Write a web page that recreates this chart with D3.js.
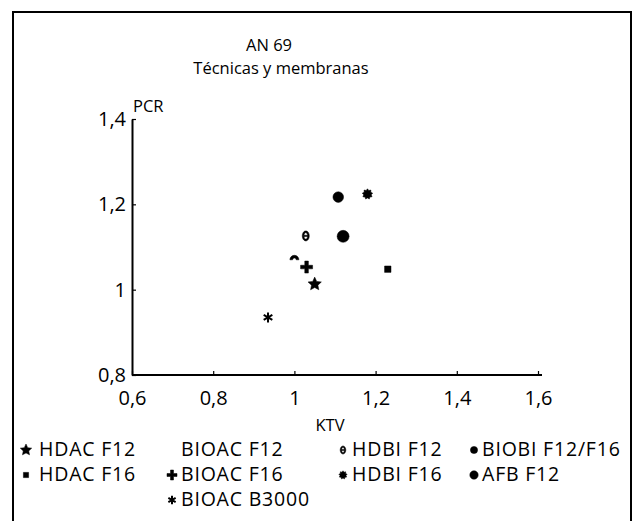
<!DOCTYPE html>
<html>
<head>
<meta charset="utf-8">
<script src="https://cdn.jsdelivr.net/npm/d3@7"></script>
<style>
  body { margin: 0; background: #fff; }
  svg { display: block; font-family: "Open Sans", sans-serif; }
</style>
</head>
<body>
<svg id="chart"></svg>
<script>
// data
const categories = ["HDAC F12", "HDAC F16", "BIOAC F12", "BIOAC F16", "BIOAC B3000",
                    "HDBI F12", "HDBI F16", "BIOBI F12/F16", "AFB F12"];
const ktv = [1.05, 1.23, 1.00, 1.03, 0.935, 1.028, 1.18, 1.108, 1.12];
const pcr = [1.013, 1.048, 1.07, 1.053, 0.935, 1.126, 1.224, 1.217, 1.125];
const xTicks = [0.6, 0.8, 1, 1.2, 1.4, 1.6];
const yTicks = [0.8, 1, 1.2, 1.4];
const legendColumns = [
  ["HDAC F12", "HDAC F16"],
  ["BIOAC F12", "BIOAC F16", "BIOAC B3000"],
  ["HDBI F12", "HDBI F16"],
  ["BIOBI F12/F16", "AFB F12"]
];

const width = 637, height = 521;
const svg = d3.select('#chart')
    .attr('width', width)
    .attr('height', height);

// outer frame (bottom edge runs off the page)
svg.append('rect')
    .attr('x', 13).attr('y', 12)
    .attr('width', 618).attr('height', 530)
    .attr('fill', 'none')
    .attr('stroke', '#000')
    .attr('stroke-width', 2);

// titles
svg.append('text').attr('x', 269).attr('y', 51)
    .attr('text-anchor', 'middle').attr('font-size', 16.5).text('AN 69');
svg.append('text').attr('x', 281).attr('y', 74)
    .attr('text-anchor', 'middle').attr('font-size', 16.5).text('Técnicas y membranas');

// scales
const x = d3.scaleLinear().domain([0.6, 1.6]).range([132, 538]);
const y = d3.scaleLinear().domain([0.8, 1.4]).range([375, 119]);

const comma = d3.formatLocale({decimal: ",", thousands: ".", grouping: [3], currency: ["", ""]}).format("~g");

const xAxis = svg.append('g')
    .attr('transform', `translate(0,${y(0.8)})`)
    .call(d3.axisBottom(x).tickValues(xTicks).tickFormat(comma).tickSizeInner(-4).tickSizeOuter(0).tickPadding(20));
xAxis.select('.domain').attr('d', `M${x(0.6)},0H${x(1.6) + 4}`);

const yAxis = svg.append('g')
    .attr('transform', `translate(${x(0.6)},0)`)
    .call(d3.axisLeft(y).tickValues(yTicks).tickFormat(comma).tickSizeInner(-4).tickSizeOuter(0).tickPadding(6));

svg.selectAll('.domain').attr('stroke-width', 2);
svg.selectAll('.tick line').attr('stroke-width', 1.2);
svg.selectAll('.tick text').attr('font-size', 20).attr('font-family', '"Open Sans", sans-serif').attr('fill', '#000');
xAxis.selectAll('.tick text').attr('dy', '0.5em');

svg.append('text').attr('x', 133).attr('y', 112).attr('font-size', 16.5).text('PCR');
svg.append('text').attr('x', 330).attr('y', 431).attr('text-anchor', 'middle').attr('font-size', 16.5).text('KTV');

// marker shapes, size = radius
function ellipse(ctx, rx, ry) {
  for (let i = 0; i <= 24; i++) {
    const a = i / 24 * 2 * Math.PI;
    if (i === 0) ctx.moveTo(rx * Math.cos(a), ry * Math.sin(a));
    else ctx.lineTo(rx * Math.cos(a), ry * Math.sin(a));
  }
  ctx.closePath();
}
function starPoly(ctx, n, r, ri) {
  for (let i = 0; i < 2 * n; i++) {
    const a = -Math.PI / 2 + i * Math.PI / n;
    const rr = i % 2 ? ri : r;
    if (i === 0) ctx.moveTo(rr * Math.cos(a), rr * Math.sin(a));
    else ctx.lineTo(rr * Math.cos(a), rr * Math.sin(a));
  }
  ctx.closePath();
}
const shapes = {
  "HDAC F12": {draw: (c, r) => starPoly(c, 5, r, r * 0.48)},
  "HDAC F16": {draw: (c, r) => { c.rect(-r, -r, 2 * r, 2 * r); }},
  "BIOAC F12": {draw: (c, r) => { c.moveTo(-r, 0); c.arc(0, 0, r, Math.PI, 2 * Math.PI); c.lineTo(r * 0.4, 0); c.arc(0, 0, r * 0.4, 0, Math.PI, true); c.closePath(); }},
  "BIOAC F16": {draw: (c, r) => { const t = r * 0.3; c.moveTo(-t, -r); c.lineTo(t, -r); c.lineTo(t, -t); c.lineTo(r, -t); c.lineTo(r, t); c.lineTo(t, t); c.lineTo(t, r); c.lineTo(-t, r); c.lineTo(-t, t); c.lineTo(-r, t); c.lineTo(-r, -t); c.lineTo(-t, -t); c.closePath(); }},
  "BIOAC B3000": {stroke: true, draw: (c, r) => { for (let i = 0; i < 3; i++) { const a = Math.PI / 2 + i * Math.PI / 3; c.moveTo(r * Math.cos(a), r * Math.sin(a)); c.lineTo(-r * Math.cos(a), -r * Math.sin(a)); } }},
  "HDBI F12": {draw: (c, r) => { ellipse(c, r * 0.7, r); ellipse(c, r * 0.36, r * 0.64); c.rect(-r * 0.4, -r * 0.13, r * 0.8, r * 0.26); }},
  "HDBI F16": {draw: (c, r) => starPoly(c, 9, r, r * 0.72)},
  "BIOBI F12/F16": {draw: (c, r) => { c.moveTo(r, 0); c.arc(0, 0, r, 0, 2 * Math.PI); }},
  "AFB F12": {draw: (c, r) => { c.moveTo(r, 0); c.arc(0, 0, r, 0, 2 * Math.PI); }}
};
const chartSize = {"HDAC F12": 7, "HDAC F16": 3.2, "BIOAC F12": 4.5, "BIOAC F16": 6, "BIOAC B3000": 5,
                   "HDBI F12": 5, "HDBI F16": 5.3, "BIOBI F12/F16": 5.3, "AFB F12": 6};
const legendSize = {"HDAC F12": 6, "HDAC F16": 2.6, "BIOAC F12": 0, "BIOAC F16": 5, "BIOAC B3000": 4.2,
                    "HDBI F12": 4, "HDBI F16": 4.2, "BIOBI F12/F16": 3.6, "AFB F12": 4.2};

function markPath(cat, r) {
  return d3.symbol().type(shapes[cat]).size(r)();
}
function styleMark(sel) {
  sel.attr('fill', d => shapes[d].stroke ? 'none' : '#000')
     .attr('fill-rule', 'evenodd')
     .attr('stroke', '#000')
     .attr('stroke-width', d => shapes[d].stroke ? 2 : 0.5);
}

// points
svg.append('g').selectAll('path')
    .data(categories)
    .join('path')
    .attr('transform', (d, i) => `translate(${x(ktv[i])},${y(pcr[i])})`)
    .attr('d', d => markPath(d, chartSize[d]))
    .call(styleMark);

// legend
const colX = [39, 181, 352, 482];
const markX = [26, 172, 343, 474];
const rowY = [456, 481, 506];
legendColumns.forEach((col, ci) => {
  const g = svg.append('g');
  const items = g.selectAll('g').data(col).join('g')
      .attr('transform', (d, ri) => `translate(0,${rowY[ri]})`);
  items.append('path')
      .attr('transform', `translate(${markX[ci]},-6)`)
      .attr('d', d => legendSize[d] ? markPath(d, legendSize[d]) : null)
      .call(styleMark);
  items.append('text')
      .attr('x', colX[ci])
      .attr('font-size', 19.5)
      .attr('letter-spacing', 0.8)
      .text(d => d);
});
</script>
</body>
</html>
